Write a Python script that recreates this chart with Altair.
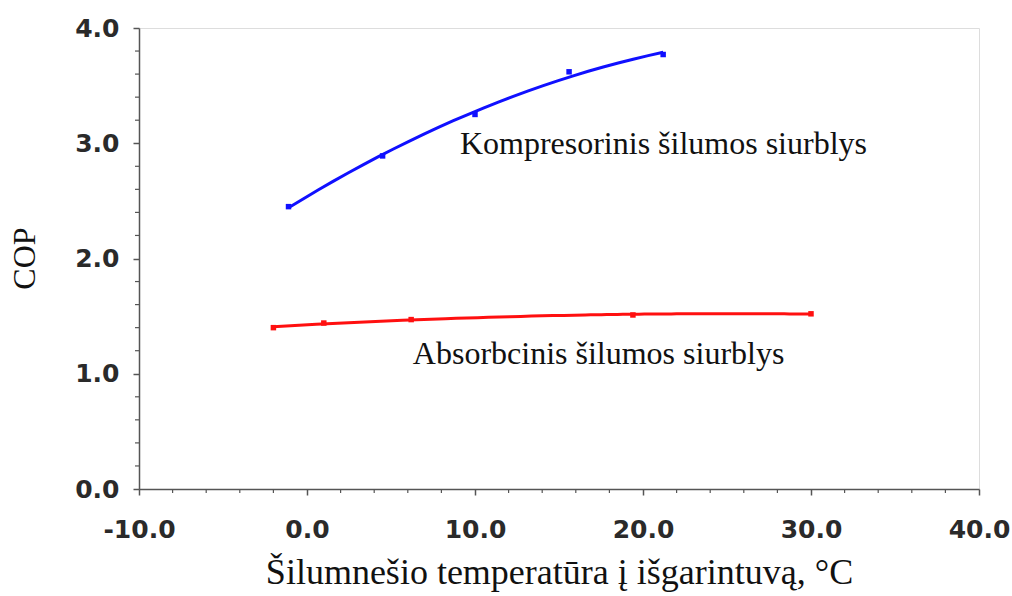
import altair as alt
import pandas as pd

# Compression heat pump: evaporator inlet temperature (°C) vs COP
komp_t = [-1.1, 4.5, 10.0, 15.6, 21.2]
komp_cop = [2.45, 2.89, 3.25, 3.62, 3.77]

# Absorption heat pump
abs_t = [-2.0, 1.0, 6.2, 19.4, 30.0]
abs_cop = [1.40, 1.44, 1.47, 1.51, 1.52]

series_names = ["Kompresorinis", "Absorbcinis"]
series_colors = ["#1010ff", "#ff1010"]

labels = ["Kompresorinis šilumos siurblys", "Absorbcinis šilumos siurblys"]
label_t = [9.1, 6.3]
label_cop = [2.99, 1.17]

x_ticks = [-10, 0, 10, 20, 30, 40]
y_ticks = [0, 1, 2, 3, 4]

df = pd.DataFrame({
    "t": komp_t + abs_t,
    "cop": komp_cop + abs_cop,
    "series": [series_names[0]] * len(komp_t) + [series_names[1]] * len(abs_t),
})
lab_df = pd.DataFrame({"t": label_t, "cop": label_cop, "text": labels})

x_scale = alt.Scale(domain=[-10, 40], nice=False, zero=False)
y_scale = alt.Scale(domain=[0, 4], nice=False)
color = alt.Color("series:N", scale=alt.Scale(domain=series_names, range=series_colors), legend=None)

# plain hyphen for negative tick labels
tick_label = "datum.value < 0 ? '-' + format(-datum.value, '.1f') : format(datum.value, '.1f')"

x_axis = alt.Axis(
    values=x_ticks, labelExpr=tick_label, title="Šilumnešio temperatūra į išgarintuvą, °C",
    grid=False, labelFont="DejaVu Sans", labelFontWeight="bold",
    labelFontSize=25, labelColor="#2a2a2a", labelFlush=False, labelOverlap=False,
    titleFont="Liberation Serif",
    titleFontSize=36, titleFontWeight="normal", titleColor="#111111",
    titleX=420, titleY=94, titleBaseline="alphabetic", titleAnchor="middle",
    labelPadding=22, domainColor="#555555", tickColor="#555555",
    tickSize=6, domainWidth=1.5, tickWidth=1.5,
)
y_axis = alt.Axis(
    values=y_ticks, labelExpr=tick_label, title="COP", grid=False,
    labelFont="DejaVu Sans", labelFontWeight="bold", labelFontSize=25,
    labelColor="#2a2a2a", labelFlush=False, labelOverlap=False,
    titleFont="Liberation Serif", titleFontSize=32,
    titleFontWeight="normal", titleColor="#111111",
    titleX=-115, titleY=230, titleAngle=270, titleBaseline="middle", titleAlign="center",
    labelPadding=14, domainColor="#555555", tickColor="#555555",
    tickSize=6, domainWidth=1.5, tickWidth=1.5,
)

base = alt.Chart(df)

curves = base.transform_regression(
    "t", "cop", method="poly", order=2, groupby=["series"]
).mark_line(strokeWidth=3).encode(
    x=alt.X("t:Q", scale=x_scale, axis=x_axis),
    y=alt.Y("cop:Q", scale=y_scale, axis=y_axis),
    color=color,
)

points = base.mark_square(size=30, opacity=1).encode(
    x=alt.X("t:Q", scale=x_scale),
    y=alt.Y("cop:Q", scale=y_scale),
    color=color,
)

text = alt.Chart(lab_df).mark_text(
    font="Liberation Serif", fontSize=32, align="left", baseline="middle", color="#111111"
).encode(
    x=alt.X("t:Q", scale=x_scale),
    y=alt.Y("cop:Q", scale=y_scale),
    text="text:N",
)

# minor tick marks along both axes
minor_x = pd.DataFrame({"t": [v for v in range(-10, 41, 2) if v % 10 != 0]})
minor_y = pd.DataFrame({"cop": [round(0.2 * i, 1) for i in range(21) if i % 5 != 0]})

minor_x_ticks = alt.Chart(minor_x).mark_rule(color="#555555", strokeWidth=1.2).encode(
    x=alt.X("t:Q", scale=x_scale),
    y=alt.value(461), y2=alt.value(465),
)
minor_y_ticks = alt.Chart(minor_y).mark_rule(color="#555555", strokeWidth=1.2).encode(
    y=alt.Y("cop:Q", scale=y_scale),
    x=alt.value(-4), x2=alt.value(0),
)

chart = alt.layer(curves, points, text, minor_x_ticks, minor_y_ticks).properties(
    width=840, height=461,
    autosize=alt.AutoSizeParams(type="none"),
    padding={"left": 139, "top": 28, "right": 33, "bottom": 107},
).configure_view(stroke="#b0b0b0", strokeWidth=2).configure(background="white")

chart.save("out.html", embed_options={"renderer": "svg", "actions": False})
